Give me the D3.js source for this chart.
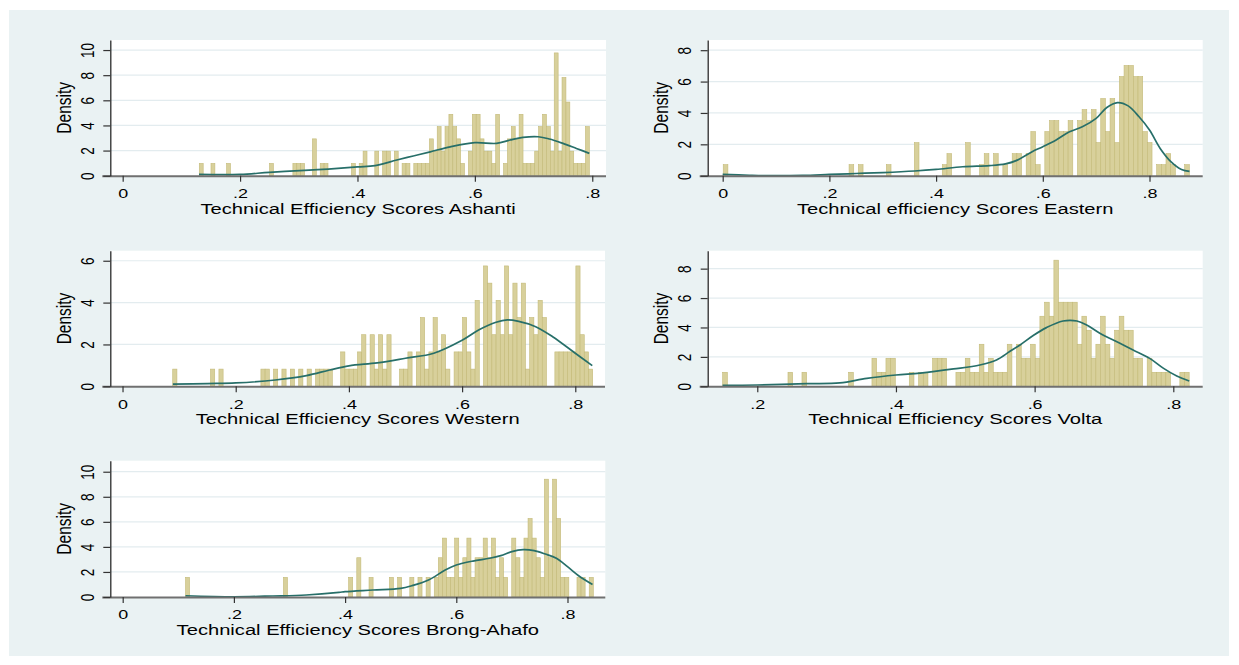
<!DOCTYPE html>
<html><head><meta charset="utf-8">
<script src="https://cdn.jsdelivr.net/npm/d3@7"></script>
<style>
body{margin:0;background:#fff}
svg{display:block}
text{font-family:"Liberation Sans",Arial,sans-serif;fill:#000}
</style>
</head><body>
<svg id="c" width="1239" height="665"></svg>
<script>
// ---------------- DATA ----------------
const xTitles = [
  "Technical Efficiency Scores Ashanti",
  "Technical efficiency Scores Eastern",
  "Technical Efficiency Scores Western",
  "Technical Efficiency Scores Volta",
  "Technical Efficiency Scores Brong-Ahafo"
];
const yTitle = "Density";

// histogram bin ranges (first bin start, last bin end), 100 bins each
const ashantiBinRange = [0.1305, 0.795];
const easternBinRange = [0.001, 0.8746];
const westernBinRange = [0.0887, 0.8307];
const voltaBinRange   = [0.1501, 0.8229];
const brongBinRange   = [0.1130, 0.8464];

const ashantiCounts = [1,0,0,1,0,0,0,1,0,0, 0,0,0,0,0,0,0,0,1,0, 0,0,0,0,1,1,1,0,0,3,
  0,1,1,0,0,0,0,0,0,1, 0,1,2,0,0,2,0,2,2,0, 2,0,1,1,0,1,1,1,1,3,
  2,4,2,4,5,4,3,1,0,2, 5,5,3,2,2,1,5,0,1,3, 4,3,5,1,1,1,2,4,5,4,
  2,10,2,8,6,2,1,1,1,4];
const easternCounts = [1,0,0,0,0,0,0,0,0,0, 0,0,0,0,0,0,0,0,0,0, 0,0,0,0,0,0,0,1,0,1,
  0,0,0,0,0,1,0,0,0,0, 0,3,0,0,0,0,0,1,2,0, 0,0,3,0,0,1,2,0,2,0,
  1,0,2,2,0,2,4,1,0,4, 5,5,4,4,5,0,5,6,5,6, 3,7,4,7,3,9,10,10,9,9,
  4,3,0,1,1,2,1,0,0,1];
const westernCounts = [1,0,0,0,0,0,0,0,0,1, 0,1,0,0,0,0,0,0,0,0, 0,1,1,0,1,0,1,0,1,0,
  1,0,1,0,1,1,1,1,0,0, 2,1,1,1,2,3,0,3,1,3, 1,3,0,0,1,1,2,0,2,4,
  1,2,4,2,3,1,0,2,2,4, 2,1,5,0,7,6,3,5,3,7, 3,6,4,6,1,4,3,5,4,0,
  0,2,2,2,2,2,7,3,2,1];
const voltaCounts = [1,0,0,0,0,0,0,0,0,0, 0,0,0,0,1,0,0,1,0,0, 0,0,0,0,0,0,0,1,0,0,
  0,0,2,1,1,2,2,0,0,0, 1,0,1,1,0,2,2,2,0,0, 1,1,2,1,1,3,1,2,1,1,
  1,3,0,3,2,2,3,2,5,6, 5,9,6,6,6,6,3,5,4,2, 3,5,3,2,4,5,4,4,2,2,
  0,2,1,1,1,1,0,0,1,1];
const brongCounts = [1,0,0,0,0,0,0,0,0,0, 0,0,0,0,0,0,0,0,0,0, 0,0,0,0,1,0,0,0,0,0,
  0,0,0,0,0,0,0,0,0,0, 1,0,2,0,0,1,0,0,0,0, 1,0,1,0,0,1,0,1,0,1,
  0,1,2,3,1,1,3,1,2,3, 1,2,2,3,2,3,1,2,1,0, 3,2,1,3,4,3,2,1,6,2,
  6,4,1,1,0,0,1,1,0,1];

// kernel density curves [score, density]
const ashantiKde = [[0.13,0.1],[0.2,0.1],[0.25,0.27],[0.31,0.42],[0.35,0.53],[0.4,0.7],[0.43,0.8],[0.467,1.25],
  [0.495,1.57],[0.524,1.9],[0.558,2.3],[0.6,2.63],[0.637,2.57],[0.66,2.84],[0.682,3.05],[0.708,3.1],
  [0.727,2.92],[0.75,2.57],[0.773,2.17],[0.795,1.78]];
const easternKde = [[0,0.08],[0.05,0.03],[0.1,0.0],[0.15,0.02],[0.2,0.08],[0.25,0.14],[0.3,0.2],[0.36,0.3],
  [0.4,0.4],[0.45,0.57],[0.5,0.64],[0.53,0.75],[0.55,0.96],[0.58,1.53],[0.6,1.85],[0.625,2.28],[0.65,2.8],
  [0.675,3.13],[0.7,3.65],[0.72,4.35],[0.74,4.66],[0.76,4.45],[0.78,3.77],[0.8,2.91],[0.82,1.74],
  [0.84,0.9],[0.86,0.4],[0.875,0.28]];
const westernKde = [[0.089,0.1],[0.15,0.13],[0.2,0.16],[0.27,0.3],[0.325,0.51],[0.366,0.78],[0.4,0.98],
  [0.45,1.12],[0.5,1.34],[0.55,1.58],[0.6,2.2],[0.63,2.7],[0.66,3.06],[0.68,3.17],[0.7,3.1],[0.73,2.85],
  [0.76,2.37],[0.8,1.58],[0.83,0.99]];
const voltaKde = [[0.15,0.07],[0.2,0.09],[0.271,0.18],[0.319,0.23],[0.358,0.54],[0.4,0.77],[0.435,0.9],
  [0.483,1.18],[0.521,1.45],[0.545,1.79],[0.564,2.36],[0.579,2.81],[0.598,3.45],[0.617,3.99],[0.641,4.44],
  [0.661,4.44],[0.675,4.17],[0.694,3.61],[0.723,2.93],[0.742,2.47],[0.766,1.9],[0.786,1.22],[0.805,0.7],[0.823,0.36]];
const brongKde = [[0.113,0.1],[0.2,0.02],[0.27,0.08],[0.33,0.16],[0.389,0.37],[0.4,0.43],[0.45,0.56],
  [0.5,0.69],[0.52,0.9],[0.55,1.36],[0.58,2.15],[0.6,2.55],[0.63,2.87],[0.66,3.09],[0.68,3.3],[0.7,3.62],
  [0.72,3.78],[0.74,3.7],[0.76,3.43],[0.78,3.09],[0.8,2.42],[0.82,1.7],[0.845,1.0]];

// tick values and labels
const xTicksFull = [0, 0.2, 0.4, 0.6, 0.8];
const xLabelsFull = ["0", ".2", ".4", ".6", ".8"];
const xTicksVolta = [0.2, 0.4, 0.6, 0.8];
const xLabelsVolta = [".2", ".4", ".6", ".8"];
const yTicks10 = [0, 2, 4, 6, 8, 10];
const yTicks8 = [0, 2, 4, 6, 8];
const yTicks6 = [0, 2, 4, 6];

// ---------------- LAYOUT ----------------
const panels = [
  {counts: ashantiCounts, bin: ashantiBinRange, kde: ashantiKde, title: xTitles[0],
   l:110.3, r:606, t:40, b:175.7, xDomain:[-0.0211, 0.8234], yMax:10.8, xTicks:xTicksFull, xLabels:xLabelsFull, yTicks:yTicks10},
  {counts: easternCounts, bin: easternBinRange, kde: easternKde, title: xTitles[1],
   l:707.7, r:1202.7, t:40, b:175.7, xDomain:[-0.0281, 0.8997], yMax:8.65, xTicks:xTicksFull, xLabels:xLabelsFull, yTicks:yTicks8},
  {counts: westernCounts, bin: westernBinRange, kde: westernKde, title: xTitles[2],
   l:110.3, r:605, t:250.7, b:386.3, xDomain:[-0.0216, 0.8525], yMax:6.48, xTicks:xTicksFull, xLabels:xLabelsFull, yTicks:yTicks6},
  {counts: voltaCounts, bin: voltaBinRange, kde: voltaKde, title: xTitles[3],
   l:707.7, r:1202.7, t:250.7, b:386.3, xDomain:[0.1285, 0.8424], yMax:9.22, xTicks:xTicksVolta, xLabels:xLabelsVolta, yTicks:yTicks8},
  {counts: brongCounts, bin: brongBinRange, kde: brongKde, title: xTitles[4],
   l:110.3, r:605.3, t:460.7, b:597, xDomain:[-0.0223, 0.868], yMax:10.88, xTicks:xTicksFull, xLabels:xLabelsFull, yTicks:yTicks10}
];

const SX = 1.33;        // horizontal stretch of the original picture's text
const tickFont = 13.5, titleFont = 15.5;

const svg = d3.select("#c");
svg.append("rect").attr("x", 9).attr("y", 10).attr("width", 1220).attr("height", 646).attr("fill", "#eaf2f3");

panels.forEach(p => {
  const g = svg.append("g");
  const xs = d3.scaleLinear().domain(p.xDomain).range([p.l, p.r]);
  const ys = d3.scaleLinear().domain([0, p.yMax]).range([p.b, p.t]);

  g.append("rect").attr("x", p.l).attr("y", p.t).attr("width", p.r - p.l).attr("height", p.b - p.t).attr("fill", "#fff");

  g.append("g").selectAll("line").data(p.yTicks.filter(v => v > 0)).join("line")
    .attr("x1", p.l).attr("x2", p.r).attr("y1", d => ys(d)).attr("y2", d => ys(d))
    .attr("stroke", "#e3ecef").attr("stroke-width", 1.2);

  const n = p.counts.length, w = (p.bin[1] - p.bin[0]) / n, N = d3.sum(p.counts);
  const bins = p.counts.map((c, i) => ({x0: p.bin[0] + i * w, x1: p.bin[0] + (i + 1) * w, d: c / (N * w)}))
    .filter(b => b.d > 0);
  g.append("g").selectAll("rect").data(bins).join("rect")
    .attr("x", d => xs(d.x0)).attr("width", d => xs(d.x1) - xs(d.x0))
    .attr("y", d => ys(d.d)).attr("height", d => ys(0) - ys(d.d))
    .attr("fill", "#d8d09b").attr("stroke", "#c3ba78").attr("stroke-width", 0.6);

  g.append("path").datum(p.kde)
    .attr("d", d3.line().x(d => xs(d[0])).y(d => ys(d[1])).curve(d3.curveCatmullRom))
    .attr("fill", "none").attr("stroke", "#276f69").attr("stroke-width", 1.7);

  // x axis
  g.append("line").attr("x1", p.l - 8).attr("x2", p.r).attr("y1", p.b + 0.5).attr("y2", p.b + 0.5)
    .attr("stroke", "#707070").attr("stroke-width", 2);
  const xa = g.append("g").attr("transform", `translate(0,${p.b})`)
    .call(d3.axisBottom(xs).tickValues(p.xTicks).tickSize(6).tickSizeOuter(0)
      .tickFormat((d, i) => p.xLabels[i]));
  xa.select(".domain").remove();
  xa.selectAll(".tick line").attr("stroke", "#333").attr("stroke-width", 1.2);
  xa.selectAll(".tick text").attr("y", null).attr("dy", null)
    .attr("transform", `translate(0,${17.5 + 0.36 * tickFont}) scale(${SX},1)`)
    .attr("font-size", tickFont).attr("font-family", null).attr("fill", "#000");

  // y axis
  const ya = g.append("g").attr("transform", `translate(${p.l},0)`)
    .call(d3.axisLeft(ys).tickValues(p.yTicks).tickSize(7).tickSizeOuter(0).tickFormat(d3.format("d")));
  ya.select(".domain").attr("stroke", "#2a2a2a").attr("stroke-width", 1.3);
  ya.selectAll(".tick line").attr("stroke", "#333").attr("stroke-width", 1.2);
  ya.selectAll(".tick text").attr("x", null).attr("dy", "0.36em").attr("text-anchor", "middle")
    .attr("transform", `translate(-23,0) scale(${SX},1) rotate(-90)`)
    .attr("font-size", tickFont).attr("font-family", null).attr("fill", "#000");

  // titles
  g.append("text").attr("text-anchor", "middle").attr("font-size", titleFont)
    .attr("transform", `translate(${(p.l + p.r) / 2},${p.b + 32.6 + 0.36 * titleFont}) scale(${SX - 0.03},1)`)
    .text(p.title);
  g.append("text").attr("text-anchor", "middle").attr("font-size", titleFont).attr("dy", "0.36em")
    .attr("transform", `translate(${p.l - 47},${(p.t + p.b) / 2}) scale(${SX - 0.03},1) rotate(-90)`)
    .text(yTitle);
});
</script>
</body></html>
